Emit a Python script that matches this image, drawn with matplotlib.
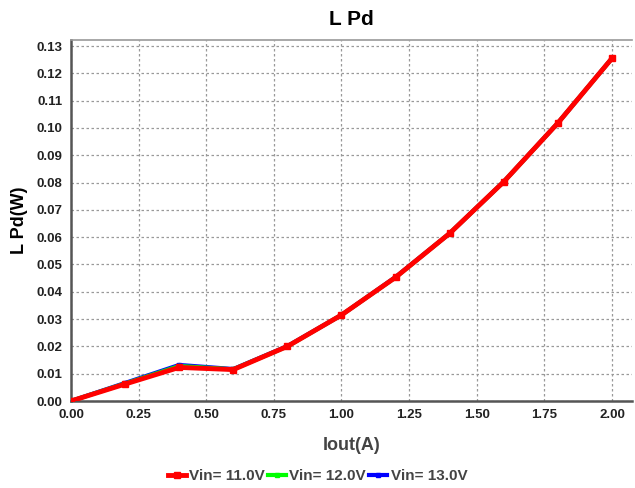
import matplotlib.pyplot as plt
from matplotlib.ticker import MultipleLocator

iout = [0.0, 0.2, 0.4, 0.6, 0.8, 1.0, 1.2, 1.4, 1.6, 1.8, 2.0]
pd_11v = [0.0, 0.0062, 0.0123, 0.0115, 0.0200, 0.0315, 0.0453, 0.0614, 0.0803, 0.1018, 0.1255]
pd_12v = [0.0, 0.0064, 0.0128, 0.0116, 0.0200, 0.0315, 0.0453, 0.0614, 0.0803, 0.1018, 0.1255]
pd_13v = [0.0, 0.0066, 0.0132, 0.0117, 0.0201, 0.0315, 0.0454, 0.0614, 0.0803, 0.1018, 0.1255]
labels = ['Vin= 11.0V', 'Vin= 12.0V', 'Vin= 13.0V']

plt.rcParams['font.family'] = ['Liberation Sans', 'DejaVu Sans']
plt.rcParams['font.weight'] = 'bold'

fig = plt.figure(figsize=(6.35, 4.88), dpi=100)
ax = fig.add_axes([71 / 635, 1 - 401 / 488, 561 / 635, 361 / 488])

l13, = ax.plot(iout, pd_13v, color='#0000ff', lw=3, marker='s', ms=3, zorder=3)
l12, = ax.plot(iout, pd_12v, color='#00ff00', lw=3, marker='s', ms=3, zorder=4)
l11, = ax.plot(iout, pd_11v, color='#ff0000', lw=3.5, marker='s', ms=5, zorder=5)

ax.set_xlim(0, 2.074)
ax.set_ylim(0, 0.1322)
ax.xaxis.set_major_locator(MultipleLocator(0.25))
ax.yaxis.set_major_locator(MultipleLocator(0.01))
ax.xaxis.set_major_formatter(plt.FuncFormatter(lambda v, p: f'{v:.2f}'))
ax.yaxis.set_major_formatter(plt.FuncFormatter(lambda v, p: f'{v:.2f}'))
ax.grid(True, color='#999999', linestyle=(0, (2, 2)), lw=0.9)
ax.tick_params(labelsize=9.5, length=0, pad=6, colors='#222222')

for s in ['left', 'bottom']:
    ax.spines[s].set_linewidth(1.8)
    ax.spines[s].set_color('#555555')
ax.spines['top'].set_color('#999999')
ax.spines['top'].set_linewidth(1.2)
ax.spines['right'].set_visible(False)

ax.set_title('L Pd', fontsize=15, fontweight='bold', pad=11)
ax.set_xlabel('Iout(A)', fontsize=13, fontweight='bold', color='#444444', labelpad=11)
ax.set_ylabel('L Pd(W)', fontsize=13, fontweight='bold', labelpad=6)

fig.legend([l11, l12, l13], labels, loc='lower center', ncol=3, frameon=False,
           bbox_to_anchor=(0.5, -0.018), handlelength=1.2, handletextpad=0.2,
           columnspacing=0.2, prop={'size': 11, 'weight': 'bold'}, labelcolor='#444444')

fig.savefig('out.png', dpi=100)
